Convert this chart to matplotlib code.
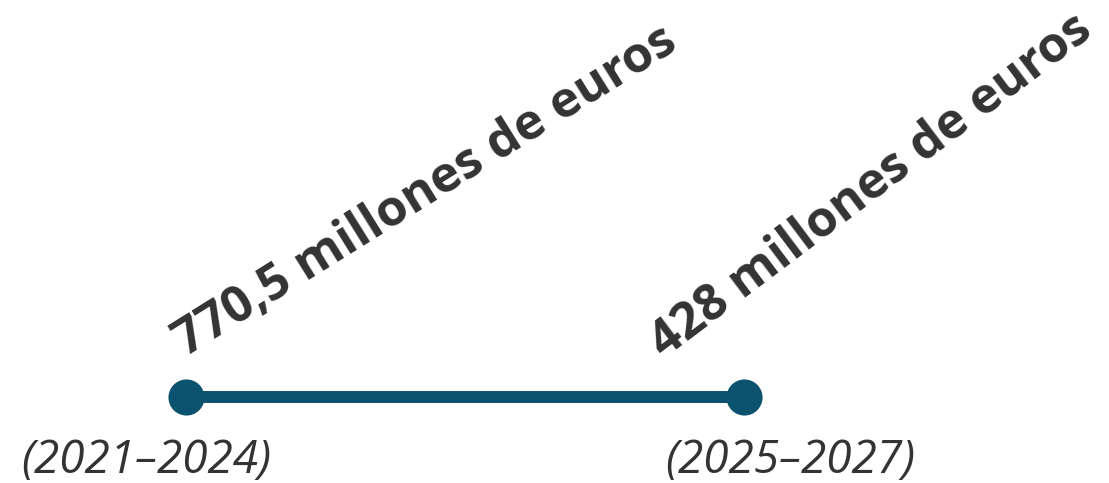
import matplotlib.pyplot as plt

# values
periods = ["(2021–2024)", "(2025–2027)"]
amounts = ["770,5 millones de euros", "428 millones de euros"]
xpos = [0, 1]

# label placement (pixels from each dot) and tilt
amount_offsets = [(0, 40), (-80, 38)]
amount_angles = [32, 37]
period_offsets = [(-40, -76), (46, -76)]

line_color = "#0b526e"
text_color = "#333333"

fig = plt.figure(figsize=(11.09, 4.83), dpi=100)
ax = fig.add_axes([0, 0, 1, 1])

ax.plot(xpos, [0, 0], color=line_color, linewidth=8.6, solid_capstyle="butt",
        marker="o", markersize=26, markerfacecolor=line_color,
        markeredgewidth=0, zorder=2)

for x, amt, off, ang in zip(xpos, amounts, amount_offsets, amount_angles):
    ax.annotate(amt, (x, 0), xytext=off, textcoords="offset pixels",
                rotation=ang, rotation_mode="anchor", ha="left", va="baseline",
                fontsize=36, fontweight="bold", family="Open Sans",
                color=text_color)

for x, per, off in zip(xpos, periods, period_offsets):
    ax.annotate(per, (x, 0), xytext=off, textcoords="offset pixels",
                ha="center", va="baseline", fontsize=33, style="italic",
                family="Open Sans", color=text_color)

# map x=0 -> 186px, x=1 -> 744px ; y=0 -> 397px from top
ax.set_xlim(-186 / 558, (1109 - 186) / 558)
ax.set_ylim(-86, 397)
ax.axis("off")

fig.savefig("out.png", dpi=100)
